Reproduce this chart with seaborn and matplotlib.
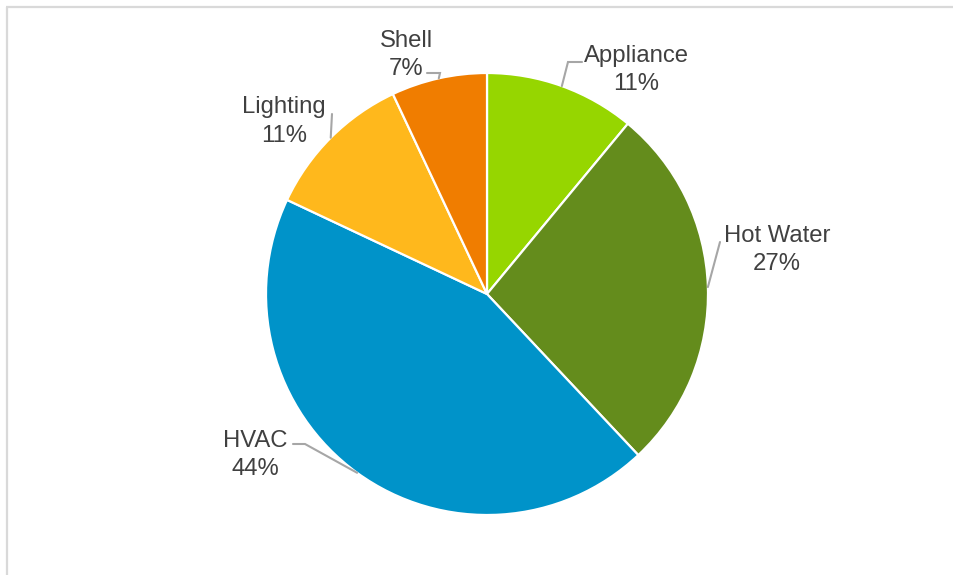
import numpy as np
import matplotlib
matplotlib.use("Agg")
import matplotlib.pyplot as plt
import seaborn as sns

# Energy savings share by end use
categories = ["Appliance", "Hot Water", "HVAC", "Lighting", "Shell"]
shares = [11, 27, 44, 11, 7]
colors = ["#96D600", "#648C1C", "#0093C9", "#FFB81C", "#F07D00"]

# Label centre x and first-line baseline y, plus leader-line elbows
# (pixel space, y measured from the top edge)
label_pos = {
    "Appliance": (636, 61.7),
    "Hot Water": (777, 241.7),
    "HVAC": (255, 446.7),
    "Lighting": (284, 113.3),
    "Shell": (406, 46.7),
}
leader_elbow = {
    "Appliance": [(568, 62), (582, 62)],
    "Hot Water": [(720, 242)],
    "HVAC": [(305, 444), (293, 444)],
    "Lighting": [(332, 114)],
    "Shell": [(440, 73), (427, 73)],
}
LINE_GAP = 28.3

sns.set_theme(style="white")
plt.rcParams["font.family"] = ["Liberation Sans", "DejaVu Sans"]

W, H = 954, 575
fig = plt.figure(figsize=(W / 100, H / 100), dpi=100)
ax = fig.add_axes([0, 0, 1, 1])

cx, cy, r = 487, H - 294, 221
ax.pie(
    shares, colors=colors, startangle=90, counterclock=False,
    center=(cx, cy), radius=r, frame=True,
    wedgeprops=dict(edgecolor="white", linewidth=1.6),
)
ax.set_xlim(0, W)
ax.set_ylim(0, H)
ax.set_aspect("equal")
ax.axis("off")

# Outer frame (left and top edges)
ax.plot([7, 7], [0, H - 7], color="#D9D9D9", lw=1.6, clip_on=False,
        solid_capstyle="butt")
ax.plot([6, W], [H - 7, H - 7], color="#D9D9D9", lw=1.6, clip_on=False,
        solid_capstyle="butt")

total = sum(shares)
start = 0.0
for cat, val in zip(categories, shares):
    mid = (start + val / 2) / total
    start += val
    ang = np.deg2rad(90 - 360 * mid)
    ex, ey = cx + r * np.cos(ang), cy + r * np.sin(ang)
    pts = [(ex, ey)] + [(x, H - y) for x, y in leader_elbow[cat]]
    xs, ys = zip(*pts)
    ax.plot(xs, ys, color="#A6A6A6", lw=1.5, solid_joinstyle="miter")
    lx, ly = label_pos[cat]
    for i, line in enumerate([cat, f"{val}%"]):
        ax.text(lx, H - (ly + i * LINE_GAP), line, ha="center", va="baseline",
                fontsize=17.2, color="#404040")

fig.savefig("out.png", dpi=100)
